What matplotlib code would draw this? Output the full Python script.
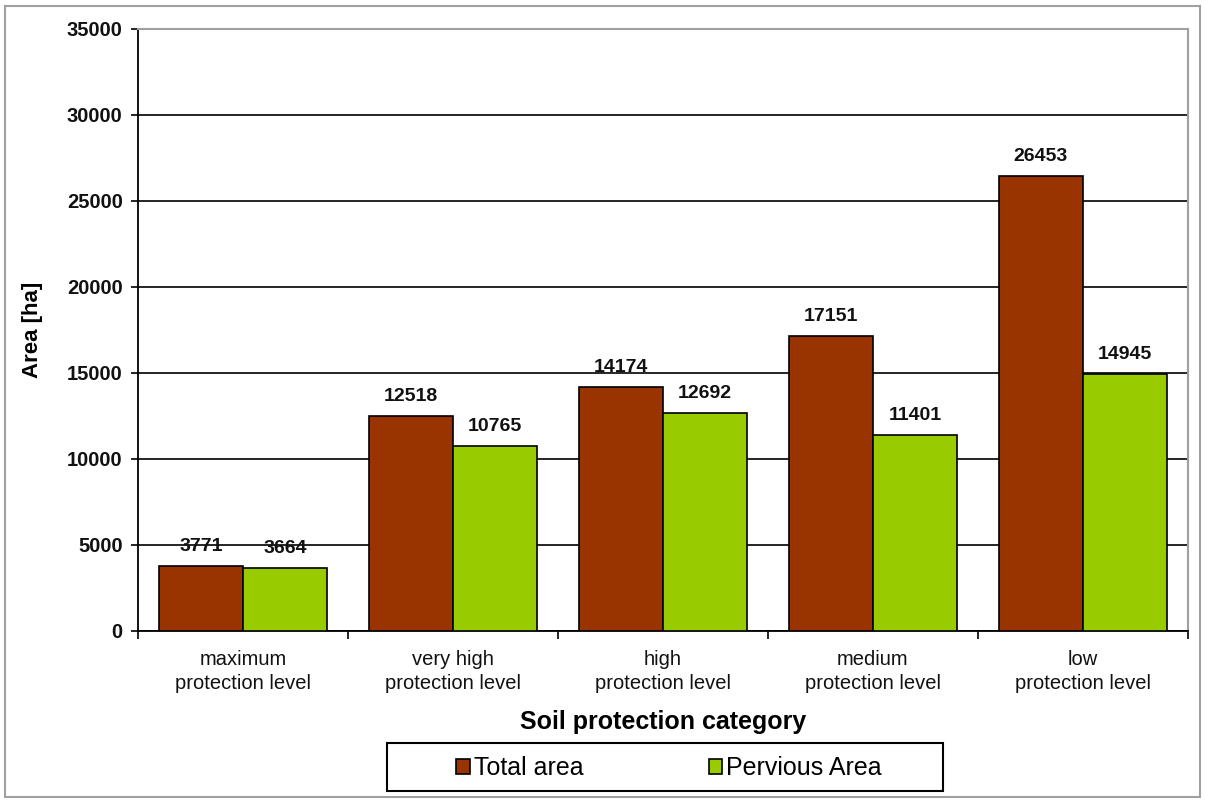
import matplotlib
matplotlib.use("Agg")
import matplotlib.pyplot as plt
import numpy as np
from matplotlib.patches import Rectangle

categories = ["maximum\nprotection level", "very high\nprotection level", "high\nprotection level",
              "medium\nprotection level", "low\nprotection level"]
total_area = [3771, 12518, 14174, 17151, 26453]
pervious_area = [3664, 10765, 12692, 11401, 14945]
series_names = ["Total area", "Pervious Area"]
colors = ["#993300", "#99CC00"]

plt.rcParams['font.family'] = ['Liberation Sans', 'DejaVu Sans']

W, H = 1205, 800
fig = plt.figure(figsize=(W / 100, H / 100), dpi=100)
ax = fig.add_axes([138 / W, 1 - 631 / H, (1188 - 138) / W, (631 - 29) / H])

x = np.arange(len(categories))
bw = 0.4
b1 = ax.bar(x - bw / 2, total_area, bw, color=colors[0], edgecolor='black', lw=1.2,
            label=series_names[0], zorder=3)
b2 = ax.bar(x + bw / 2, pervious_area, bw, color=colors[1], edgecolor='black', lw=1.2,
            label=series_names[1], zorder=3)
for bars in (b1, b2):
    ax.bar_label(bars, fmt='%d', padding=8, fontsize=14, fontweight='bold', color='#111111')

ax.set_xlim(-0.5, len(categories) - 0.5)
ax.set_ylim(0, 35000)
ax.set_yticks(np.arange(0, 35001, 5000))
ax.yaxis.grid(True, color='black', lw=1.2, zorder=0)
ax.set_axisbelow(True)

ax.set_xticks(x)
ax.set_xticklabels(categories, fontsize=14.5, linespacing=1.3, color='#111111')
ax.set_xticks(np.arange(-0.5, len(categories)), minor=True)
ax.tick_params(axis='x', which='major', length=0, pad=14)
ax.tick_params(axis='x', which='minor', length=6, width=1.2, direction='out')
ax.tick_params(axis='y', length=5, width=1.2, direction='out', pad=6)
for lab in ax.get_yticklabels():
    lab.set_fontweight('bold')
    lab.set_fontsize(14.5)
    lab.set_color('#111111')

ax.spines['left'].set_color('black')
ax.spines['bottom'].set_color('black')
ax.spines['left'].set_linewidth(1.3)
ax.spines['bottom'].set_linewidth(1.3)
ax.spines['top'].set_color('#a0a0a0')
ax.spines['right'].set_color('#a0a0a0')
ax.spines['top'].set_linewidth(1.5)
ax.spines['right'].set_linewidth(1.5)

ax.set_xlabel('Soil protection category', fontsize=18, fontweight='bold', labelpad=12)
ax.set_ylabel('Area [ha]', fontsize=16, fontweight='bold', labelpad=17)

# legend box drawn separately so the entries sit in the middle like the original
fig.patches.append(Rectangle((387 / W, 1 - 791 / H), (943 - 387) / W, (791 - 743) / H,
                             transform=fig.transFigure, fill=False, edgecolor='black', lw=1.5))
leg = fig.legend(loc='center', ncol=2, bbox_to_anchor=(669 / W, 1 - 768 / H),
                 fontsize=18, frameon=False,
                 handlelength=0.55, handleheight=0.55, handletextpad=0.15,
                 columnspacing=5.0, borderaxespad=0, borderpad=0)

fig.patches.append(Rectangle((5 / W, 1 - 797 / H), (1200 - 5) / W, (797 - 6) / H,
                             transform=fig.transFigure, fill=False, edgecolor='#a0a0a0', lw=1.5))

plt.savefig('out.png', dpi=100)
plt.close()
